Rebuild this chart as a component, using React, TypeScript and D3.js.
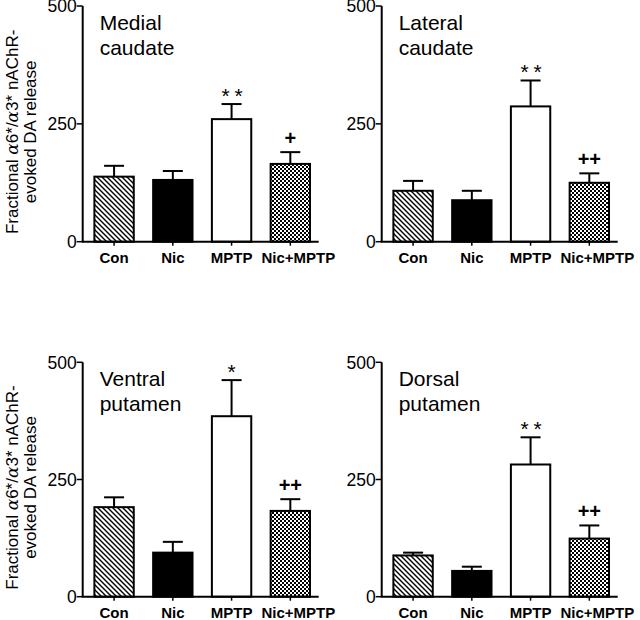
import React from "react";
import * as d3 from "d3";

const categories = ["Con", "Nic", "MPTP", "Nic+MPTP"];
const yTicks = [0, 250, 500];

const titles = [
  ["Medial", "caudate"],
  ["Lateral", "caudate"],
  ["Ventral", "putamen"],
  ["Dorsal", "putamen"],
];

const medialMean = [138, 131, 260, 165];
const medialErr = [23, 19, 32, 25];
const medialSig = ["", "", "**", "+"];

const lateralMean = [108, 88, 287, 125];
const lateralErr = [21, 20, 55, 20];
const lateralSig = ["", "", "**", "++"];

const ventralMean = [191, 94, 385, 183];
const ventralErr = [21, 23, 77, 25];
const ventralSig = ["", "", "*", "++"];

const dorsalMean = [88, 55, 282, 124];
const dorsalErr = [6, 9, 58, 28];
const dorsalSig = ["", "", "**", "++"];

const panelsData = [
  { mean: medialMean, err: medialErr, sig: medialSig },
  { mean: lateralMean, err: lateralErr, sig: lateralSig },
  { mean: ventralMean, err: ventralErr, sig: ventralSig },
  { mean: dorsalMean, err: dorsalErr, sig: dorsalSig },
];

const FONT = "Arial, 'Liberation Sans', Helvetica, sans-serif";
const fills = ["url(#hatch)", "#000", "#fff", "url(#checker)"];

const layout = [
  { x0: 82.7, yTop: 6, yBot: 241.7 },
  { x0: 381.7, yTop: 6, yBot: 241.7 },
  { x0: 82.7, yTop: 362.3, yBot: 596.7 },
  { x0: 381.7, yTop: 362.3, yBot: 596.7 },
];

function Panel({ idx }: { idx: number }) {
  const { x0, yTop, yBot } = layout[idx];
  const d = panelsData[idx];
  const x = d3
    .scaleBand<string>()
    .domain(categories)
    .range([x0 + 2, x0 + 237])
    .paddingInner(0.33)
    .paddingOuter(0.165);
  const y = d3.scaleLinear().domain([0, 500]).range([yBot, yTop]);
  const bw = x.bandwidth();
  const showYLabel = idx % 2 === 0;
  const yc = (yTop + yBot) / 2 + 8;
  return (
    <g>
      {categories.map((c, i) => {
        const bx = x(c)!;
        const cx = bx + bw / 2;
        const top = y(d.mean[i]);
        const et = y(d.mean[i] + d.err[i]);
        const s = d.sig[i];
        const star = s.startsWith("*");
        return (
          <g key={c}>
            <line x1={cx} x2={cx} y1={top} y2={et} stroke="#000" strokeWidth={2} />
            <line x1={cx - 10} x2={cx + 10} y1={et} y2={et} stroke="#000" strokeWidth={2} />
            <rect x={bx} y={top} width={bw} height={yBot - top} fill={fills[i]} stroke="#000" strokeWidth={2} />
            <line x1={cx} x2={cx} y1={yBot} y2={yBot + 4} stroke="#000" strokeWidth={1.5} />
            <text
              x={cx + (i === 3 ? 8 : 0)}
              y={yBot + 21.6}
              textAnchor="middle"
              fontFamily={FONT}
              fontWeight="bold"
              fontSize={15}
            >
              {c}
            </text>
            {s && (
              <text
                x={cx + (s === "**" ? 3 : 0)}
                y={et - (star ? 1 : 7)}
                textAnchor="middle"
                fontFamily={FONT}
                fontWeight={star ? "normal" : "bold"}
                fontSize={star ? 21 : 20}
                letterSpacing={s === "**" ? 5 : 0}
              >
                {s}
              </text>
            )}
          </g>
        );
      })}
      <line x1={x0} x2={x0} y1={yTop} y2={yBot} stroke="#000" strokeWidth={2} />
      <line x1={x0 - 1} x2={x0 + 236} y1={yBot} y2={yBot} stroke="#000" strokeWidth={2} />
      {yTicks.map((t) => (
        <g key={t}>
          <line x1={x0 - 6} x2={x0} y1={y(t)} y2={y(t)} stroke="#000" strokeWidth={1.5} />
          <text x={x0 - 6} y={y(t)} dy="0.36em" textAnchor="end" fontFamily={FONT} fontSize={17.5}>
            {t}
          </text>
        </g>
      ))}
      {titles[idx].map((line, j) => (
        <text key={j} x={x0 + 17} y={yTop + 24 + j * 24.5} fontFamily={FONT} fontSize={21}>
          {line}
        </text>
      ))}
      {showYLabel && (
        <g transform={`translate(0,${yc}) rotate(-90)`}>
          <text x={0} y={18} textAnchor="middle" fontFamily={FONT} fontSize={17}>
            Fractional <tspan fontStyle="italic" fontFamily="'DejaVu Serif', serif">α</tspan>6*/
            <tspan fontStyle="italic" fontFamily="'DejaVu Serif', serif">α</tspan>3* nAChR-
          </text>
          <text x={0} y={36} textAnchor="middle" fontFamily={FONT} fontSize={17}>
            evoked DA release
          </text>
        </g>
      )}
    </g>
  );
}

export default function App() {
  return (
    <svg
      width={640}
      height={620}
      style={{ position: "absolute", left: 0, top: 0, background: "#fff" }}
    >
      <defs>
        <pattern id="hatch" patternUnits="userSpaceOnUse" width={5} height={5}>
          <rect width={5} height={5} fill="#fff" />
          <path d="M-1,-1 L6,6 M-1,4 L1,6 M4,-1 L6,1" stroke="#000" strokeWidth={1.4} />
        </pattern>
        <pattern id="checker" patternUnits="userSpaceOnUse" width={4} height={4}>
          <rect width={4} height={4} fill="#fff" />
          <rect x={0} y={0} width={2} height={2} fill="#000" />
          <rect x={2} y={2} width={2} height={2} fill="#000" />
        </pattern>
      </defs>
      {[0, 1, 2, 3].map((i) => (
        <Panel key={i} idx={i} />
      ))}
    </svg>
  );
}
